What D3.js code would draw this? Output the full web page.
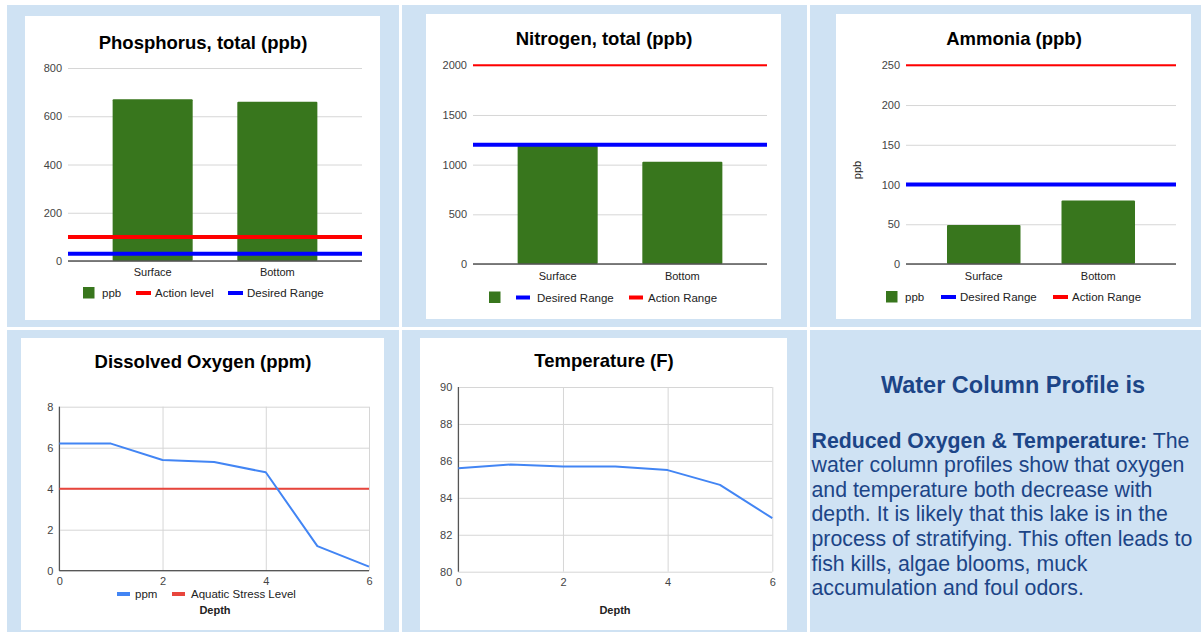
<!DOCTYPE html>
<html>
<head>
<meta charset="utf-8">
<script src="https://cdn.jsdelivr.net/npm/d3@7"></script>
<style>
  html, body { margin: 0; padding: 0; background: #ffffff; }
  svg { display: block; font-family: "Liberation Sans", Arial, sans-serif; }
</style>
</head>
<body>
<svg id="board" width="1201" height="632"></svg>
<script>
// ---- Lab results ----
const categories = ["Surface", "Bottom"];

const phosphorus = [670, 660];
const phosphorusAction = 100;
const phosphorusDesired = 30;
const phosphorusTicks = [0, 200, 400, 600, 800];

const nitrogen = [1190, 1030];
const nitrogenDesired = 1200;
const nitrogenAction = 2000;
const nitrogenTicks = [0, 500, 1000, 1500, 2000];

const ammonia = [49, 80];
const ammoniaDesired = 100;
const ammoniaAction = 250;
const ammoniaTicks = [0, 50, 100, 150, 200, 250];

// ---- Water column profile ----
const depths = [0, 1, 2, 3, 4, 5, 6];
const oxygen = [6.2, 6.2, 5.4, 5.3, 4.8, 1.2, 0.2];
const stressLevel = 4;
const oxygenTicks = [0, 2, 4, 6, 8];
const temperature = [85.6, 85.8, 85.7, 85.7, 85.5, 84.7, 82.9];
const temperatureTicks = [80, 82, 84, 86, 88, 90];
const depthTicks = [0, 2, 4, 6];

const GREEN = "#38761d", RED = "#ff0000", BLUE = "#0000ff";
const LINE_BLUE = "#4285f4", LINE_RED = "#e8453c";
const CELL = "#cfe2f3", GRID = "#d6d6d6", BASE = "#333333";
const FONT = "Liberation Sans, Arial, sans-serif";
const plain = d => String(d);

const svg = d3.select("#board");

// table cells behind the cards
const cells = [
  [7, 5, 392, 322], [402, 5, 405, 322], [810, 5, 391, 322],
  [7, 330, 392, 302], [402, 330, 405, 302], [810, 330, 391, 302]
];
svg.selectAll("rect.cell").data(cells).join("rect")
  .attr("class", "cell")
  .attr("x", d => d[0]).attr("y", d => d[1])
  .attr("width", d => d[2]).attr("height", d => d[3])
  .attr("fill", CELL);

// white cards
const cards = [[25, 16, 355, 304], [426, 14, 355, 305], [836, 14, 355, 305],
               [21, 338, 363, 292], [420, 338, 367, 292]];
svg.selectAll("rect.card").data(cards).join("rect")
  .attr("class", "card")
  .attr("x", d => d[0]).attr("y", d => d[1])
  .attr("width", d => d[2]).attr("height", d => d[3])
  .attr("fill", "#ffffff");

function title(text, x, y) {
  svg.append("text").attr("x", x).attr("y", y)
    .attr("text-anchor", "middle")
    .attr("font-size", 18.5).attr("font-weight", "bold").attr("fill", "#000")
    .text(text);
}

function legend(items, cy) {
  const g = svg.append("g");
  items.forEach(it => {
    if (it.kind === "box") {
      g.append("rect").attr("x", it.x).attr("y", cy - 6).attr("width", 11.5).attr("height", 11.5)
        .attr("fill", it.color);
    } else {
      g.append("rect").attr("x", it.x).attr("y", cy - 2).attr("width", it.w || 14).attr("height", 4)
        .attr("fill", it.color);
    }
    if (it.label) {
      g.append("text").attr("x", it.tx).attr("y", cy + 4)
        .attr("font-size", 11.5).attr("fill", "#222").text(it.label);
    }
  });
}

function barChart(cfg) {
  const x = d3.scaleBand().domain(categories).range([cfg.x0, cfg.x1]).padding(0.358);
  const y = d3.scaleLinear().domain([0, cfg.max]).range([cfg.yBottom, cfg.yTop]);

  const axis = svg.append("g").attr("transform", `translate(${cfg.x0},0)`)
    .call(d3.axisLeft(y).tickValues(cfg.ticks).tickFormat(plain)
      .tickSize(-(cfg.x1 - cfg.x0)).tickPadding(6));
  axis.select(".domain").remove();
  axis.selectAll(".tick line").attr("stroke", GRID);
  axis.selectAll(".tick text").attr("font-size", 11).attr("fill", "#444").attr("font-family", FONT);

  svg.append("g").selectAll("rect").data(cfg.values).join("rect")
    .attr("x", (d, i) => x(categories[i]))
    .attr("width", x.bandwidth())
    .attr("y", d => y(d))
    .attr("height", d => y(0) - y(d))
    .attr("rx", 1)
    .attr("fill", GREEN);

  // zero baseline
  svg.append("line").attr("x1", cfg.x0).attr("x2", cfg.x1)
    .attr("y1", y(0)).attr("y2", y(0)).attr("stroke", "#555").attr("stroke-width", 1.5);

  // reference levels
  cfg.refs.forEach(r => {
    svg.append("line").attr("x1", cfg.x0).attr("x2", cfg.x1)
      .attr("y1", y(r.value)).attr("y2", y(r.value))
      .attr("stroke", r.color).attr("stroke-width", r.width);
  });

  const xa = svg.append("g").attr("transform", `translate(0,${y(0)})`)
    .call(d3.axisBottom(x).tickSize(0).tickPadding(cfg.labelPad));
  xa.select(".domain").remove();
  xa.selectAll(".tick text").attr("font-size", 11).attr("fill", "#222").attr("font-family", FONT);

  if (cfg.yLabel) {
    svg.append("text")
      .attr("transform", `translate(${cfg.yLabel.x},${cfg.yLabel.y}) rotate(-90)`)
      .attr("text-anchor", "middle").attr("font-size", 11).attr("fill", "#222")
      .text(cfg.yLabel.text);
  }
}

function lineChart(cfg) {
  const x = d3.scaleLinear().domain([0, 6]).range([cfg.x0, cfg.x1]);
  const y = d3.scaleLinear().domain(cfg.yDomain).range([cfg.yBottom, cfg.yTop]);

  const ya = svg.append("g").attr("transform", `translate(${cfg.x0},0)`)
    .call(d3.axisLeft(y).tickValues(cfg.yTicks).tickFormat(plain)
      .tickSize(-(cfg.x1 - cfg.x0)).tickPadding(6));
  ya.select(".domain").remove();
  ya.selectAll(".tick line").attr("stroke", GRID);
  ya.selectAll(".tick text").attr("font-size", 11).attr("fill", "#444").attr("font-family", FONT);

  const xa = svg.append("g").attr("transform", `translate(0,${cfg.yBottom})`)
    .call(d3.axisBottom(x).tickValues(depthTicks).tickFormat(plain)
      .tickSize(-(cfg.yBottom - cfg.yTop)).tickPadding(7));
  xa.select(".domain").remove();
  xa.selectAll(".tick line").attr("stroke", GRID);
  xa.selectAll(".tick text").attr("font-size", 11).attr("fill", "#444").attr("font-family", FONT);

  // baselines
  svg.append("line").attr("x1", x(0)).attr("x2", x(0))
    .attr("y1", cfg.yTop).attr("y2", cfg.yBottom).attr("stroke", BASE).attr("stroke-width", 1);
  if (cfg.yDomain[0] === 0) {
    svg.append("line").attr("x1", cfg.x0).attr("x2", cfg.x1)
      .attr("y1", y(0)).attr("y2", y(0)).attr("stroke", BASE).attr("stroke-width", 1);
  }

  if (cfg.ref !== undefined) {
    svg.append("line").attr("x1", cfg.x0).attr("x2", cfg.x1)
      .attr("y1", y(cfg.ref)).attr("y2", y(cfg.ref))
      .attr("stroke", LINE_RED).attr("stroke-width", 2);
  }

  const line = d3.line().x((d, i) => x(depths[i])).y(d => y(d));
  svg.append("path").datum(cfg.values)
    .attr("d", line).attr("fill", "none")
    .attr("stroke", LINE_BLUE).attr("stroke-width", 2).attr("stroke-linejoin", "round");

  svg.append("text").attr("x", cfg.depthX).attr("y", cfg.depthY)
    .attr("text-anchor", "middle").attr("font-size", 11).attr("font-weight", "bold").attr("fill", "#222")
    .text("Depth");
}

// Phosphorus
title("Phosphorus, total (ppb)", 203, 48.5);
barChart({
  x0: 68, x1: 362, yTop: 68, yBottom: 261, max: 800, ticks: phosphorusTicks,
  values: phosphorus, labelPad: 7,
  refs: [{ value: phosphorusAction, color: RED, width: 4 }, { value: phosphorusDesired, color: BLUE, width: 4 }]
});
legend([
  { kind: "box", color: GREEN, x: 83, tx: 102, label: "ppb" },
  { kind: "line", color: RED, x: 136, w: 15, tx: 155, label: "Action level" },
  { kind: "line", color: BLUE, x: 228, w: 15, tx: 247, label: "Desired Range" }
], 293);

// Nitrogen
title("Nitrogen, total (ppb)", 604, 44.5);
barChart({
  x0: 473, x1: 767, yTop: 65.3, yBottom: 264, max: 2000, ticks: nitrogenTicks,
  values: nitrogen, labelPad: 8,
  refs: [{ value: nitrogenAction, color: RED, width: 2 }, { value: nitrogenDesired, color: BLUE, width: 4 }]
});
legend([
  { kind: "box", color: GREEN, x: 489, tx: 0, label: "" },
  { kind: "line", color: BLUE, x: 516, w: 14, tx: 537, label: "Desired Range" },
  { kind: "line", color: RED, x: 629, w: 14, tx: 648, label: "Action Range" }
], 297.5);

// Ammonia
title("Ammonia (ppb)", 1014, 44.5);
barChart({
  x0: 906, x1: 1176, yTop: 65.3, yBottom: 264, max: 250, ticks: ammoniaTicks,
  values: ammonia, labelPad: 8,
  refs: [{ value: ammoniaAction, color: RED, width: 2 }, { value: ammoniaDesired, color: BLUE, width: 4 }],
  yLabel: { x: 861, y: 170, text: "ppb" }
});
legend([
  { kind: "box", color: GREEN, x: 886, tx: 905, label: "ppb" },
  { kind: "line", color: BLUE, x: 941, w: 15, tx: 960, label: "Desired Range" },
  { kind: "line", color: RED, x: 1053, w: 15, tx: 1072, label: "Action Range" }
], 297);

// Dissolved oxygen
title("Dissolved Oxygen (ppm)", 203, 367.5);
lineChart({
  x0: 59.3, x1: 369, yTop: 406.7, yBottom: 570.7, yDomain: [0, 8], yTicks: oxygenTicks,
  values: oxygen, ref: stressLevel, depthX: 215, depthY: 614
});
legend([
  { kind: "line", color: LINE_BLUE, x: 117, w: 13, tx: 135, label: "ppm" },
  { kind: "line", color: LINE_RED, x: 172, w: 13, tx: 191, label: "Aquatic Stress Level" }
], 594);

// Temperature
title("Temperature (F)", 604, 366.5);
lineChart({
  x0: 458.3, x1: 772.3, yTop: 387, yBottom: 571.7, yDomain: [80, 90], yTicks: temperatureTicks,
  values: temperature, depthX: 615, depthY: 614
});

// Summary text
const NAVY = "#1c4587";
svg.append("text").attr("x", 1013).attr("y", 393)
  .attr("text-anchor", "middle").attr("font-size", 23.5).attr("font-weight", "bold").attr("fill", NAVY)
  .text("Water Column Profile is");

const para = [
  [["Reduced Oxygen & Temperature:", true], [" The", false]],
  [["water column profiles show that oxygen", false]],
  [["and temperature both decrease with", false]],
  [["depth. It is likely that this lake is in the", false]],
  [["process of stratifying. This often leads to", false]],
  [["fish kills, algae blooms, muck", false]],
  [["accumulation and foul odors.", false]]
];
const pt = svg.append("text").attr("font-size", 21.3).attr("fill", NAVY);
para.forEach((parts, i) => {
  parts.forEach((p, j) => {
    const ts = pt.append("tspan").text(p[0]).attr("font-weight", p[1] ? "bold" : "normal");
    if (j === 0) ts.attr("x", 811.5).attr("y", 447.5 + i * 24.6);
  });
});
</script>
</body>
</html>
